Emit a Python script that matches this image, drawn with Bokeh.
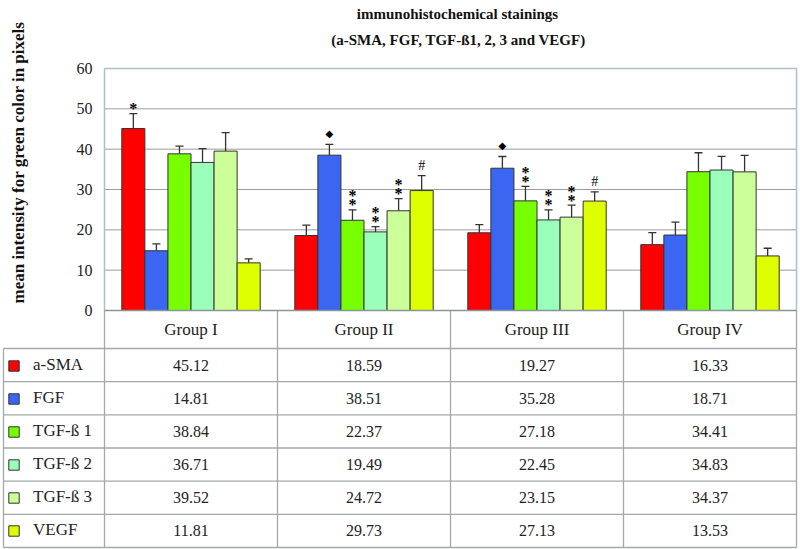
import math
from bokeh.plotting import figure
from bokeh.models import Range1d, Legend, LegendItem
from bokeh.core.properties import value
from bokeh.embed import file_html
from bokeh.resources import INLINE

# ---------------- data ----------------
groups = ["Group I", "Group II", "Group III", "Group IV"]
markers = ["a-SMA", "FGF", "TGF-ß 1", "TGF-ß 2", "TGF-ß 3", "VEGF"]

asma = [45.12, 18.59, 19.27, 16.33]
fgf = [14.81, 38.51, 35.28, 18.71]
tgf1 = [38.84, 22.37, 27.18, 34.41]
tgf2 = [36.71, 19.49, 22.45, 34.83]
tgf3 = [39.52, 24.72, 23.15, 34.37]
vegf = [11.81, 29.73, 27.13, 13.53]

asma_err = [3.7, 2.6, 2.0, 3.0]
fgf_err = [1.7, 2.7, 2.9, 3.2]
tgf1_err = [1.9, 2.6, 3.6, 4.7]
tgf2_err = [3.4, 1.3, 2.5, 3.4]
tgf3_err = [4.6, 3.0, 3.0, 4.1]
vegf_err = [1.0, 3.7, 2.3, 1.9]

asma_mark = ["*", "", "", ""]
fgf_mark = ["", "◆", "◆", ""]
tgf1_mark = ["", "**", "**", ""]
tgf2_mark = ["", "**", "**", ""]
tgf3_mark = ["", "**", "**", ""]
vegf_mark = ["", "#", "#", ""]

y_ticks = [0, 10, 20, 30, 40, 50, 60]
y_label = "mean intensity for green color in pixels"
title1 = "immunohistochemical stainings"
title2 = "(a-SMA, FGF, TGF-ß1, 2, 3 and VEGF)"

series = [asma, fgf, tgf1, tgf2, tgf3, vegf]
errors = [asma_err, fgf_err, tgf1_err, tgf2_err, tgf3_err, vegf_err]
marks = [asma_mark, fgf_mark, tgf1_mark, tgf2_mark, tgf3_mark, vegf_mark]
colors = ["#FF0000", "#3A66F2", "#77FF00", "#99FFBB", "#CCFF99", "#DDFF00"]

# ---------------- layout (pixels) ----------------
SERIF = "Liberation Serif"
W, H = 800, 549
TOP = 68                 # pixel row of value 60 (top of the chart)
X0 = 104                 # left edge of chart / first group column
XR = 796                 # right edge of chart and table
Y0 = 310                 # pixel row of value 0
XU = (XR - X0) / 4.0     # px per group
YU = (Y0 - TOP) / 60.0   # px per y unit
HEAD_PX = 38.0
ROW_PX = (547 - Y0 - HEAD_PX) / 6.0
bw = 0.8 / 6

def xd(px):
    return (px - X0) / XU

def yd(py):
    return (Y0 - py) / YU

p = figure(width=W, height=H, output_backend="svg", toolbar_location=None,
           x_range=Range1d(xd(0), xd(W)), y_range=Range1d(yd(H), yd(0)),
           min_border_left=0, min_border_right=0, min_border_bottom=0,
           min_border_top=0)
p.axis.visible = False
p.grid.visible = False
p.outline_line_color = None

# titles
p.text(x=[xd(457), xd(458)], y=[yd(13), yd(39)], text=[title1, title2],
       text_font=value(SERIF), text_font_size="15px", text_font_style="bold",
       text_align="center", text_baseline="middle", text_color="#111111")

# horizontal grid lines of the chart
p.segment(x0=[0] * len(y_ticks), y0=y_ticks, x1=[4] * len(y_ticks), y1=y_ticks,
          line_color="#9C9C9C", line_width=1)
# chart frame
p.segment(x0=[0, 4, 0], y0=[60, 60, 60], x1=[4, 4, 0], y1=[60, 0, 0],
          line_color="#A8C2C2", line_width=1.5)
# y tick labels
p.text(x=[xd(X0 - 12)] * len(y_ticks), y=y_ticks, text=[str(v) for v in y_ticks],
       text_font=value(SERIF), text_font_size="16px", text_align="right",
       text_baseline="middle", text_color="#222222")
# y axis title
p.text(x=[xd(18)], y=[yd(162)], text=[y_label], angle=math.pi / 2,
       text_font=value(SERIF), text_font_size="17px", text_font_style="bold",
       text_align="center", text_baseline="middle", text_color="#111111")

legend_items = []
for j, (vals, errs, mk, col, name) in enumerate(zip(series, errors, marks, colors, markers)):
    xs = [i + 0.5 + (j - 2.5) * bw for i in range(4)]
    tops = [v + e for v, e in zip(vals, errs)]
    p.segment(x0=xs, y0=vals, x1=xs, y1=tops, line_color="#333333", line_width=1.3)
    p.scatter(x=xs, y=tops, marker="dash", size=8, line_color="#333333", line_width=1.3)
    r = p.vbar(x=xs, width=bw, top=vals, bottom=0, fill_color=col,
               line_color="#333333", line_width=1)
    legend_items.append(LegendItem(label=name, renderers=[r]))
    for x, t, m in zip(xs, tops, mk):
        if not m:
            continue
        if m == "◆":
            p.text(x=[x], y=[t], text=[m], text_font=value("DejaVu Sans"),
                   text_font_size="10px", text_align="center",
                   text_baseline="middle", y_offset=-11, text_color="black")
        elif m == "#":
            p.text(x=[x], y=[t], text=[m], text_font=value(SERIF),
                   text_font_size="14px", text_align="center",
                   text_baseline="middle", y_offset=-10, text_color="black")
        else:
            for k, ch in enumerate(m):
                p.text(x=[x], y=[t], text=[ch], text_font=value(SERIF),
                       text_font_style="bold",
                       text_font_size="16px", text_align="center",
                       text_baseline="middle", y_offset=-5 - 9 * k,
                       text_color="black")

# ---------------- table ----------------
grid_col = "#A4A8A8"
tx0, ty0, tx1, ty1 = [], [], [], []
for k in range(7):
    yy = yd(Y0 + HEAD_PX + k * ROW_PX)
    tx0.append(xd(3)); tx1.append(4); ty0.append(yy); ty1.append(yy)
for xv in [0, 1, 2, 3, 4]:
    tx0.append(xv); tx1.append(xv); ty0.append(0); ty1.append(yd(547))
tx0.append(xd(3)); tx1.append(xd(3)); ty0.append(yd(Y0 + HEAD_PX)); ty1.append(yd(547))
p.segment(x0=tx0, y0=ty0, x1=tx1, y1=ty1, line_color=grid_col, line_width=1.3)
# chart baseline
p.segment(x0=[0], y0=[0], x1=[4], y1=[0], line_color="#8A9696", line_width=1.6)

# header row
p.text(x=[i + 0.5 for i in range(4)], y=[yd(Y0 + HEAD_PX / 2)] * 4, text=groups,
       text_font=value(SERIF), text_font_size="17px", text_align="center",
       text_baseline="middle", text_color="#222222")

# value cells
cx, cy, ct = [], [], []
for j, vals in enumerate(series):
    for i, v in enumerate(vals):
        cx.append(i + 0.5)
        cy.append(yd(Y0 + HEAD_PX + ROW_PX * (j + 0.5)))
        ct.append("%.2f" % v)
p.text(x=cx, y=cy, text=ct, text_font=value(SERIF), text_font_size="16px",
       text_align="center", text_baseline="middle", text_color="#222222")

# legend column of the table
row0 = Y0 + HEAD_PX + ROW_PX * 0.5
leg_h = 6 * 20 + 5 * 13
legend = Legend(items=legend_items, orientation="vertical",
                location=(7, int(round(H - (row0 - 10 + leg_h)))),
                glyph_width=13, glyph_height=13, label_height=20, spacing=13,
                label_standoff=13, padding=0, margin=0,
                border_line_color=None, background_fill_alpha=0,
                label_text_font=SERIF, label_text_font_size="17px",
                label_text_color="#222222")
p.add_layout(legend, "center")

open("out.html", "w").write(file_html(p, INLINE))
